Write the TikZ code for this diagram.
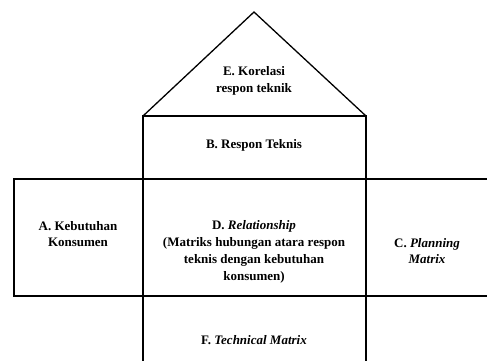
\documentclass[tikz,border=0pt]{standalone}
\usepackage{fontspec}
\setmainfont{Liberation Serif}
\begin{document}
\begin{tikzpicture}[x=1pt,y=-1pt,
  edge/.style={line width=1.3pt,line cap=rect},
  lbl/.style={font=\fontsize{13}{16.8}\selectfont\bfseries,align=center,inner sep=0pt}]
\useasboundingbox (0,0) rectangle (487,360);
\coordinate (apex) at (254,12);
\coordinate (rl) at (143,116);
\coordinate (rr) at (366,116);
\coordinate (ml) at (143,179);
\coordinate (mr) at (366,179);
\coordinate (bl) at (143,296);
\coordinate (br) at (366,296);
\draw[edge] (rl) -- (apex) -- (rr);
\draw[edge] (rl) rectangle (mr);
\draw[edge] (14,179) rectangle (bl);
\draw[edge] (ml) rectangle (br);
\draw[edge] (mr) -- (487,179);
\draw[edge] (br) -- (487,296);
\draw[edge] (bl) -- (143,360);
\draw[edge] (br) -- (366,360);
\node[lbl] (e) at (254,81) {E. Korelasi\\respon teknik};
\node[lbl] (b) at (254,145) {B. Respon Teknis};
\node[lbl] (a) at (78,234) {A. Kebutuhan\\Konsumen};
\node[lbl] (d) at (254,252) {D. \textit{Relationship}\\(Matriks hubungan atara respon\\teknis dengan kebutuhan\\konsumen)};
\node[lbl] (c) at (427,251) {C. \textit{Planning}\\\textit{Matrix}};
\node[lbl] (f) at (254,340) {F. \textit{Technical Matrix}};
\end{tikzpicture}
\end{document}
